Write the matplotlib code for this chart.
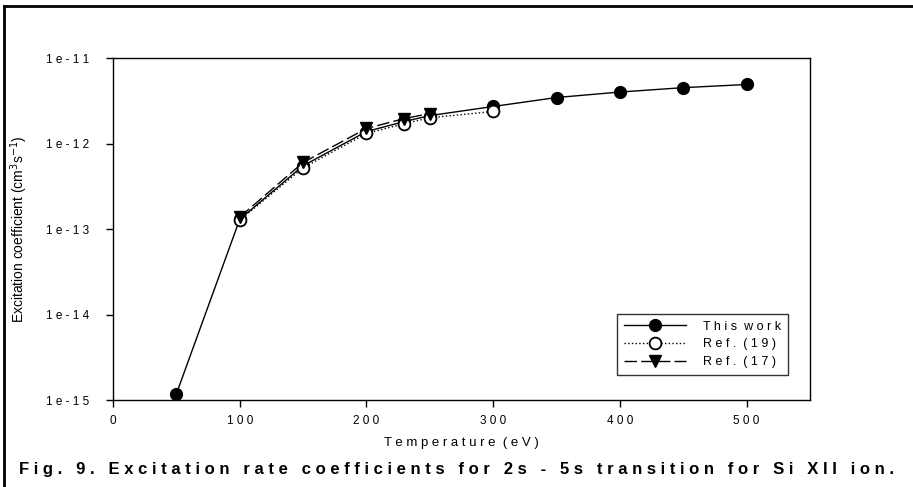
import matplotlib
matplotlib.use("Agg")
import matplotlib.pyplot as plt
from matplotlib.lines import Line2D

plt.rcParams['font.family'] = ['Liberation Sans', 'DejaVu Sans']

# data
temp_this = [50, 100, 150, 200, 230, 250, 300, 350, 400, 450, 500]
rate_this = [1.18e-15, 1.3e-13, 5.5e-13, 1.38e-12, 1.81e-12, 2.12e-12, 2.71e-12,
             3.45e-12, 4.0e-12, 4.5e-12, 4.9e-12]
temp_r19 = [100, 150, 200, 230, 250, 300]
rate_r19 = [1.27e-13, 5.2e-13, 1.31e-12, 1.71e-12, 2.0e-12, 2.37e-12]
temp_r17 = [100, 150, 200, 230, 250]
rate_r17 = [1.38e-13, 6.0e-13, 1.5e-12, 1.96e-12, 2.24e-12]

xticks = [0, 100, 200, 300, 400, 500]
yticks = [1e-15, 1e-14, 1e-13, 1e-12, 1e-11]
ytick_labels = ['1e-15', '1e-14', '1e-13', '1e-12', '1e-11']
caption = 'Fig. 9. Excitation rate coefficients for 2s - 5s transition for Si XII ion.'


def spaced(s, gap='  '):
    # letter-spaced look of the original
    return gap.join(' '.join(w) for w in s.split())


fig = plt.figure(figsize=(9.13, 4.87), dpi=100)
ax = fig.add_axes([0.1238, 0.1786, 0.7634, 0.7023])

ax.plot(temp_this, rate_this, '-', color='black', lw=1.0, marker='o',
        ms=8.5, mfc='black', mec='black', label=spaced('This work'), zorder=3)
ax.plot(temp_r19, rate_r19, ':', color='black', lw=1.0, marker='o',
        ms=8.5, mfc='white', mec='black', mew=1.3, label=spaced('Ref. (19)'), zorder=4)
ax.plot(temp_r17, rate_r17, color='black', lw=1.0, dashes=(9, 3), marker='v',
        ms=8.5, mfc='black', mec='black', label=spaced('Ref. (17)'), zorder=5)

ax.set_yscale('log')
ax.set_xlim(0, 550)
ax.set_ylim(1e-15, 1e-11)
ax.set_xticks(xticks)
ax.set_xticklabels([spaced(str(t)) for t in xticks], fontsize=8.5)
ax.set_yticks(yticks)
ax.set_yticklabels([spaced(t) for t in ytick_labels], fontsize=8.5)
ax.yaxis.set_minor_locator(matplotlib.ticker.NullLocator())
ax.tick_params(axis='y', direction='out', length=5, width=1, pad=12)
ax.tick_params(axis='x', direction='out', length=5, width=1, pad=6)
for sp in ax.spines.values():
    sp.set_linewidth(1.0)

ax.set_xlabel(spaced('Temperature (eV)'), fontsize=9.5, labelpad=7)
ax.set_ylabel('Excitation coefficient (cm$^{3}$s$^{-1}$)', fontsize=10, labelpad=12)

leg = ax.legend(loc='lower right', bbox_to_anchor=(0.977, 0.055), fontsize=9,
                handlelength=5.0, frameon=True, fancybox=False, edgecolor='black',
                borderpad=0.55, labelspacing=0.45, handletextpad=1.3)
leg.get_frame().set_linewidth(1.0)

# caption
fig.text(0.5, 0.035, spaced(caption, gap='   '),
         ha='center', va='center', fontsize=12, fontweight='bold')

# outer frame (top and left)
fig.add_artist(Line2D([0.0045, 1.0], [0.988, 0.988], transform=fig.transFigure,
                      color='black', lw=2))
fig.add_artist(Line2D([0.0045, 0.0045], [0.0, 0.988], transform=fig.transFigure,
                      color='black', lw=2))

fig.savefig('out.png', dpi=100)
